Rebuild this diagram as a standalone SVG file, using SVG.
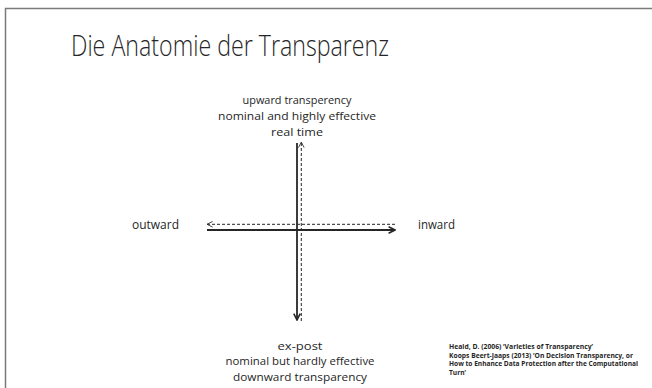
<svg xmlns="http://www.w3.org/2000/svg" width="652" height="388" viewBox="0 0 652 388">
<style>
.t{font-family:"Open Sans","Liberation Sans",sans-serif;fill:#262626}
.lbl{font-size:11.5px;text-anchor:middle}
.ref{font-size:6.6px;font-weight:bold}
.solid{stroke:#262626;stroke-width:1.8;fill:none}
.dash{stroke:#262626;stroke-width:1;stroke-dasharray:3 2;fill:none}
</style>
<defs>
<marker id="ah" viewBox="0 0 10 10" refX="9" refY="5" markerWidth="8" markerHeight="8" orient="auto" markerUnits="userSpaceOnUse">
<path d="M1,1 L9,5 L1,9" fill="none" stroke="#262626" stroke-width="2"/>
</marker>
<marker id="ahd" viewBox="0 0 10 10" refX="9" refY="5" markerWidth="7" markerHeight="7" orient="auto" markerUnits="userSpaceOnUse">
<path d="M1,1 L9,5 L1,9" fill="none" stroke="#262626" stroke-width="1.2"/>
</marker>
</defs>
<rect width="652" height="388" fill="#fff"/>
<path d="M5.5,388 V8.5 H652" fill="none" stroke="#7a7a7a" stroke-width="1.5"/>
<g id="title"><text class="t" x="71" y="56" font-size="30" font-weight="300" textLength="318" lengthAdjust="spacingAndGlyphs">Die Anatomie der Transparenz</text></g>
<g id="top">
<text class="t lbl" x="297" y="104" textLength="109" lengthAdjust="spacingAndGlyphs">upward transperency</text>
<text class="t lbl" x="297" y="120" textLength="158" lengthAdjust="spacingAndGlyphs">nominal and highly effective</text>
<text class="t lbl" x="297" y="136" textLength="52" lengthAdjust="spacingAndGlyphs">real time</text>
</g>
<g id="bottom">
<text class="t lbl" x="300" y="350" textLength="45" lengthAdjust="spacingAndGlyphs">ex-post</text>
<text class="t lbl" x="300" y="365" textLength="149" lengthAdjust="spacingAndGlyphs">nominal but hardly effective</text>
<text class="t lbl" x="300" y="381" textLength="134" lengthAdjust="spacingAndGlyphs">downward transparency</text>
</g>
<g id="outward"><text class="t" x="132" y="229" font-size="12" textLength="47" lengthAdjust="spacingAndGlyphs">outward</text></g>
<g id="inward"><text class="t" x="418" y="229" font-size="12" textLength="37" lengthAdjust="spacingAndGlyphs">inward</text></g>
<g id="refs">
<text class="t ref" x="449" y="349" textLength="144" lengthAdjust="spacingAndGlyphs">Heald, D. (2006) ‘Varieties of Transparency’</text>
<text class="t ref" x="449" y="358" textLength="184" lengthAdjust="spacingAndGlyphs">Koops Beert-Jaaps (2013) ‘On Decision Transparency, or</text>
<text class="t ref" x="449" y="366" textLength="189" lengthAdjust="spacingAndGlyphs">How to Enhance Data Protection after the Computational</text>
<text class="t ref" x="449" y="375">Turn’</text>
</g>
<g id="connectors">
<line class="solid" x1="297" y1="143" x2="297" y2="320" marker-end="url(#ah)"/>
<line class="dash" x1="301.3" y1="321" x2="301.3" y2="142" marker-end="url(#ahd)"/>
<line class="solid" x1="207" y1="230" x2="395" y2="230" marker-end="url(#ah)"/>
<line class="dash" x1="395" y1="224.3" x2="207" y2="224.3" marker-end="url(#ahd)"/>
</g>
</svg>
